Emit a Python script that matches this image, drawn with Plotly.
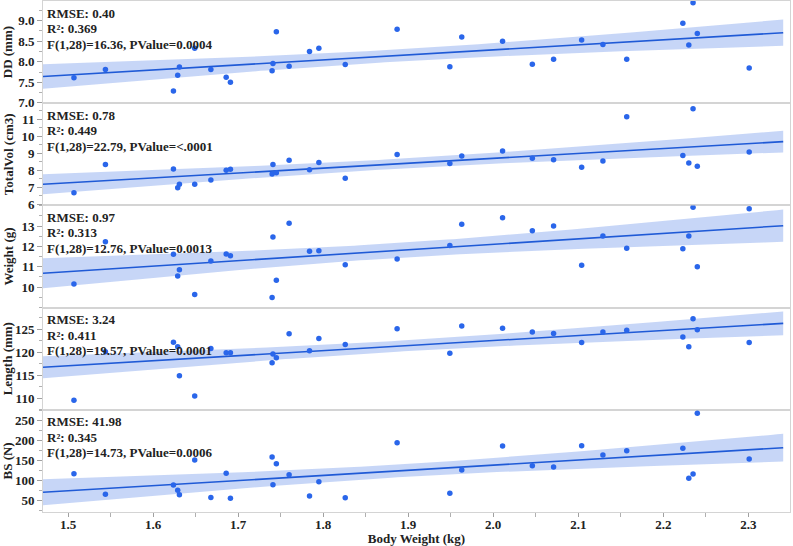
import numpy as np
import plotly.graph_objects as go
from plotly.subplots import make_subplots

# ---- data ----
body_weight = [1.507, 1.544, 1.624, 1.629, 1.631, 1.649, 1.668, 1.686, 1.691, 1.740,
               1.741, 1.745, 1.760, 1.784, 1.795, 1.826, 1.887, 1.949, 1.963, 2.011,
               2.046, 2.071, 2.104, 2.129, 2.157, 2.223, 2.230, 2.235, 2.240, 2.301]

dd = [7.61, 7.81, 7.29, 7.67, 7.87, 8.33, 7.81, 7.62, 7.50, 7.78,
      7.96, 8.73, 7.89, 8.25, 8.33, 7.93, 8.79, 7.88, 8.60, 8.50,
      7.94, 8.06, 8.53, 8.42, 8.06, 8.94, 8.41, 9.44, 8.69, 7.85]

total_vol = [6.68, 8.35, 8.08, 6.98, 7.18, 7.19, 7.43, 8.00, 8.06, 7.78,
             8.35, 7.86, 8.59, 8.04, 8.47, 7.53, 8.94, 8.41, 8.84, 9.14,
             8.71, 8.62, 8.19, 8.55, 11.15, 8.88, 8.43, 11.62, 8.24, 9.08]

weight = [10.15, 12.23, 11.61, 10.54, 10.85, 9.64, 11.28, 11.63, 11.54, 9.49,
          12.46, 10.33, 13.14, 11.76, 11.79, 11.10, 11.38, 12.05, 13.09, 13.41,
          12.77, 13.00, 11.07, 12.51, 11.91, 11.89, 12.51, 13.93, 11.00, 13.86]

length = [109.6, 120.1, 122.2, 121.2, 114.9, 110.5, 120.8, 119.9, 119.9, 117.7,
          119.6, 118.8, 124.0, 120.3, 123.0, 121.7, 125.1, 119.8, 125.7, 125.2,
          124.4, 124.1, 122.1, 124.4, 124.8, 123.3, 121.2, 127.3, 124.9, 122.1]

bs = [116.5, 65.0, 88.3, 75.0, 64.0, 150.8, 56.8, 117.5, 55.0, 158.3,
      89.0, 141.5, 114.0, 60.8, 96.5, 56.5, 194.0, 67.5, 125.8, 185.8,
      136.5, 133.3, 186.5, 163.3, 174.0, 180.0, 105.0, 115.8, 267.5, 153.3]

y_titles = ["DD (mm)", "TotalVol (cm3)", "Weight (g)", "Length (mm)", "BS (N)"]
stat_lines = [
    ["RMSE: 0.40", "R²: 0.369", "F(1,28)=16.36, PValue=0.0004"],
    ["RMSE: 0.78", "R²: 0.449", "F(1,28)=22.79, PValue=<.0001"],
    ["RMSE: 0.97", "R²: 0.313", "F(1,28)=12.76, PValue=0.0013"],
    ["RMSE: 3.24", "R²: 0.411", "F(1,28)=19.57, PValue=0.0001"],
    ["RMSE: 41.98", "R²: 0.345", "F(1,28)=14.73, PValue=0.0006"],
]
y_ranges = [[6.99, 9.48], [5.94, 11.95], [8.99, 14.02], [107.5, 129.7], [20.75, 276.25]]
y_ticks = [[7.0, 7.5, 8.0, 8.5, 9.0], [6, 7, 8, 9, 10, 11], [10, 11, 12, 13],
           [110, 115, 120, 125], [50, 100, 150, 200, 250]]
y_ticktext = [["7.0", "7.5", "8.0", "8.5", "9.0"], ["6", "7", "8", "9", "10", "11"],
              ["10", "11", "12", "13"], ["110", "115", "120", "125"],
              ["50", "100", "150", "200", "250"]]
y_minor = [0.25, 0.5, 0.5, 2.5, 25]
x_ticks = [1.5, 1.6, 1.7, 1.8, 1.9, 2.0, 2.1, 2.2, 2.3]
x_range = [1.4706, 2.349]
fit_end = 2.341

series = [dd, total_vol, weight, length, bs]

PT = "#2a66ea"
LINE = "#1f5ad6"
BAND = "rgba(70,120,230,0.30)"
FRAME = "#d4d4d4"
FONT = "Liberation Serif"
TXT = "#222222"

fig = make_subplots(rows=5, cols=1, shared_xaxes=True, vertical_spacing=0)

x = np.array(body_weight)
n = len(x)
xg = np.linspace(x_range[0], fit_end, 120)
tcrit = 2.0484  # t(0.975, 28)

for i, ys in enumerate(series):
    y = np.array(ys)
    b1, b0 = np.polyfit(x, y, 1)
    resid = y - (b0 + b1 * x)
    s = np.sqrt(np.sum(resid ** 2) / (n - 2))
    sxx = np.sum((x - x.mean()) ** 2)
    yhat = b0 + b1 * xg
    se = s * np.sqrt(1.0 / n + (xg - x.mean()) ** 2 / sxx)
    lo = yhat - tcrit * se
    hi = yhat + tcrit * se
    r = i + 1
    fig.add_trace(go.Scatter(x=xg, y=lo, mode="lines", line=dict(width=0, color=BAND),
                             showlegend=False, hoverinfo="skip"), row=r, col=1)
    fig.add_trace(go.Scatter(x=xg, y=hi, mode="lines", line=dict(width=0, color=BAND),
                             fill="tonexty", fillcolor=BAND,
                             showlegend=False, hoverinfo="skip"), row=r, col=1)
    fig.add_trace(go.Scatter(x=xg, y=yhat, mode="lines", line=dict(width=1.6, color=LINE),
                             showlegend=False, hoverinfo="skip"), row=r, col=1)
    fig.add_trace(go.Scatter(x=x, y=y, mode="markers",
                             marker=dict(size=5.5, color=PT),
                             showlegend=False), row=r, col=1)

    yname = "yaxis" if r == 1 else f"yaxis{r}"
    fig.layout[yname].update(
        range=y_ranges[i], tickmode="array", tickvals=y_ticks[i], ticktext=y_ticktext[i],
        ticks="outside", ticklen=5, tickcolor="#a0a0a0", showgrid=False, zeroline=False,
        showline=True, linecolor=FRAME, mirror=True, linewidth=1, automargin=False,
        minor=dict(dtick=y_minor[i], ticks="outside", ticklen=3, tickcolor="#b0b0b0"),
        tickfont=dict(family=FONT, size=13, color=TXT, weight="bold"),
        title=dict(text=y_titles[i], standoff=4,
                   font=dict(family=FONT, size=13, color=TXT, weight="bold")),
    )
    xname = "xaxis" if r == 1 else f"xaxis{r}"
    fig.layout[xname].update(
        range=x_range, showgrid=False, zeroline=False, showline=True, linecolor=FRAME,
        mirror=True, linewidth=1,
    )
    xr = f"{'x' if r == 1 else 'x' + str(r)} domain"
    yr = f"{'y' if r == 1 else 'y' + str(r)} domain"
    for k, line_txt in enumerate(stat_lines[i]):
        fig.add_annotation(
            text=line_txt, xref=xr, yref=yr, x=0.003, y=1.0, yshift=-12 - 15.5 * k,
            xanchor="left", yanchor="middle", align="left", showarrow=False,
            font=dict(family=FONT, size=13, color=TXT, weight="bold"),
        )

fig.update_xaxes(
    row=5, col=1, tickmode="array", tickvals=x_ticks, ticktext=[f"{v:.1f}" for v in x_ticks],
    ticks="outside", ticklen=4, tickcolor="#a0a0a0", automargin=False,
    ticklabelstandoff=-4,
    minor=dict(dtick=0.05, ticks="outside", ticklen=4, tickcolor="#b0b0b0"),
    tickfont=dict(family=FONT, size=13, color=TXT, weight="bold"),
    title=dict(text="Body Weight (kg)", standoff=2,
               font=dict(family=FONT, size=13, color=TXT, weight="bold")),
)

fig.update_layout(
    width=793, height=546, margin=dict(l=43, r=3, t=1, b=34),
    paper_bgcolor="white", plot_bgcolor="white", showlegend=False,
)

fig.write_html("out.html", config={"displayModeBar": False},
               post_script="document.body.style.margin='0px';document.body.style.padding='0px';")
